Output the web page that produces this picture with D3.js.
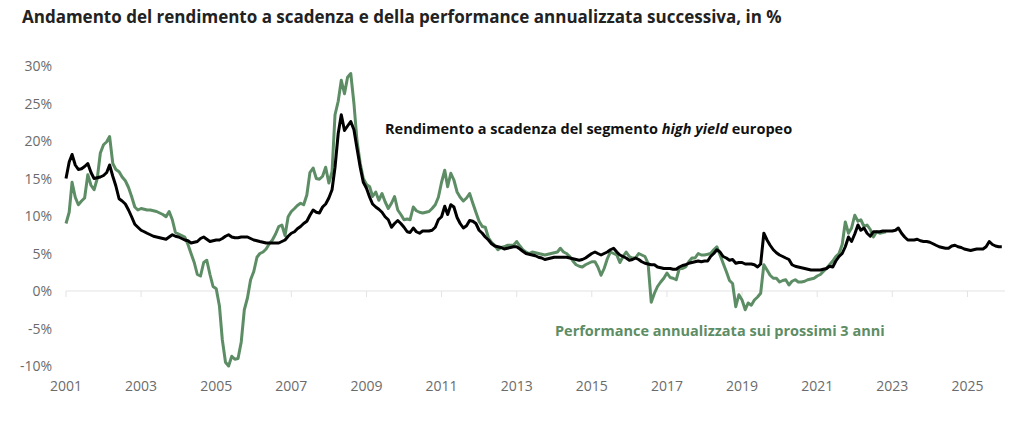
<!DOCTYPE html>
<html lang="it">
<head>
<meta charset="UTF-8">
<title>Rendimento a scadenza e performance successiva</title>
<script src="https://d3js.org/d3.v7.min.js"></script>
<style>
  body { margin: 0; background: #fff; }
  svg { display: block; font-family: "Open Sans", "Noto Sans", sans-serif; }
</style>
</head>
<body>
<svg id="chart" width="1024" height="431"></svg>
<script>
(function () {
  'use strict';

  // monthly values from Jan 2001, one row per year
  const yieldValues = [
    15.0, 17.2, 18.2, 16.8, 16.2, 16.3, 16.6, 17.0, 15.8, 15.0, 15.1, 15.2, // 2001
    15.4, 15.8, 16.8, 15.3, 14.0, 12.3, 12.0, 11.6, 10.8, 9.9, 8.9, 8.5,    // 2002
    8.1, 7.9, 7.7, 7.5, 7.3, 7.2, 7.1, 7.0, 6.9, 7.2, 7.5, 7.3,             // 2003
    7.2, 7.0, 6.8, 6.7, 6.4, 6.5, 6.6, 7.0, 7.2, 6.9, 6.6, 6.7,             // 2004
    6.8, 6.8, 7.0, 7.3, 7.5, 7.2, 7.1, 7.1, 7.2, 7.2, 7.2, 7.0,             // 2005
    6.8, 6.7, 6.6, 6.5, 6.4, 6.4, 6.4, 6.4, 6.4, 6.6, 6.8, 7.3,             // 2006
    7.7, 7.9, 8.3, 8.6, 9.0, 9.3, 10.1, 10.8, 10.5, 10.4, 11.2, 11.6,       // 2007
    12.4, 13.5, 16.5, 21.0, 23.5, 21.4, 22.0, 22.6, 21.5, 19.0, 16.5, 14.5, // 2008
    13.7, 12.5, 11.6, 11.2, 10.9, 10.5, 9.9, 9.5, 8.5, 9.0, 9.4, 9.0,       // 2009
    8.5, 7.9, 7.8, 8.4, 7.9, 7.7, 8.0, 8.0, 8.0, 8.1, 8.5, 9.5,             // 2010
    9.9, 11.3, 10.2, 11.5, 11.2, 9.8, 9.0, 8.4, 8.7, 9.4, 9.3, 9.0,         // 2011
    8.1, 7.7, 7.2, 6.8, 6.3, 6.0, 5.9, 5.8, 5.6, 5.7, 5.8, 5.9,             // 2012
    5.9, 5.6, 5.3, 5.0, 4.9, 4.8, 4.7, 4.5, 4.4, 4.2, 4.3, 4.4,             // 2013
    4.5, 4.5, 4.5, 4.5, 4.5, 4.4, 4.3, 4.2, 4.1, 4.2, 4.4, 4.7,             // 2014
    5.0, 5.2, 5.0, 4.8, 5.0, 5.2, 5.5, 5.7, 5.2, 4.8, 4.6, 4.4,             // 2015
    4.1, 4.2, 4.4, 4.2, 3.9, 3.7, 3.6, 3.5, 3.5, 3.2, 3.1, 3.0,             // 2016
    3.0, 3.0, 2.9, 2.9, 3.2, 3.4, 3.5, 3.7, 3.8, 3.9, 4.0, 3.9,             // 2017
    4.0, 4.0, 4.6, 5.0, 5.5, 5.2, 4.6, 4.4, 4.1, 4.2, 3.7, 3.8,             // 2018
    3.8, 3.6, 3.6, 3.6, 3.5, 3.2, 3.6, 7.7, 6.8, 6.1, 5.5, 5.1,             // 2019
    4.8, 4.6, 4.4, 4.2, 3.5, 3.3, 3.2, 3.1, 3.0, 2.9, 2.8, 2.8,             // 2020
    2.8, 2.8, 2.9, 3.0, 3.3, 3.2, 4.0, 4.6, 5.0, 5.9, 7.2, 6.6,             // 2021
    7.6, 8.8, 8.1, 8.4, 7.7, 7.3, 7.9, 7.9, 7.9, 8.0, 8.0, 8.0,             // 2022
    8.0, 8.1, 8.4, 7.7, 7.2, 6.8, 6.8, 6.8, 6.9, 6.7, 6.6, 6.6,             // 2023
    6.5, 6.3, 6.1, 5.9, 5.8, 5.7, 5.7, 6.0, 6.1, 5.9, 5.8, 5.6,             // 2024
    5.5, 5.4, 5.5, 5.6, 5.6, 5.6, 5.9, 6.6, 6.2, 6.0, 5.9, 5.9              // 2025
  ];

  const perfValues = [
    9.0, 10.5, 14.5, 12.5, 11.5, 12.0, 12.4, 15.5, 14.1, 13.5, 15.0, 18.4,  // 2001
    19.5, 19.9, 20.6, 17.0, 16.2, 15.9, 15.2, 14.7, 13.8, 12.6, 11.2, 10.8, // 2002
    11.0, 10.9, 10.8, 10.8, 10.7, 10.6, 10.4, 10.2, 9.9, 10.6, 9.5, 7.8,    // 2003
    7.6, 7.4, 7.2, 6.2, 5.0, 3.8, 2.2, 2.0, 3.8, 4.1, 2.2, 0.6,             // 2004
    0.3, -2.0, -6.5, -9.5, -10.0, -8.7, -9.1, -9.0, -6.8, -2.5, -0.9, 1.5,  // 2005
    2.6, 4.5, 5.0, 5.2, 5.6, 6.3, 6.8, 7.6, 8.6, 8.8, 7.4, 9.9,             // 2006
    10.6, 11.0, 11.4, 11.7, 11.5, 12.8, 15.8, 16.4, 15.0, 14.9, 15.3, 16.5, // 2007
    14.4, 15.9, 23.5, 25.3, 28.1, 26.3, 28.5, 29.0, 25.0, 20.0, 17.0, 15.0, // 2008
    14.2, 13.9, 12.6, 13.2, 12.1, 13.0, 11.9, 11.0, 11.7, 12.6, 10.8, 10.2, // 2009
    9.5, 9.6, 9.5, 11.2, 10.7, 10.5, 10.4, 10.5, 10.6, 11.0, 11.5, 12.5,    // 2010
    14.5, 16.1, 13.9, 15.7, 14.8, 13.2, 12.5, 12.0, 12.4, 13.0, 11.7, 10.5, // 2011
    9.3, 8.6, 8.5, 7.1, 6.5, 6.1, 5.5, 5.8, 5.9, 6.1, 6.1, 6.1,             // 2012
    6.6, 6.0, 5.5, 5.2, 5.0, 5.2, 5.1, 5.0, 4.9, 4.8, 4.9, 5.0,             // 2013
    5.1, 5.2, 5.7, 5.2, 5.0, 4.6, 4.0, 3.5, 3.3, 3.2, 3.5, 3.7,             // 2014
    3.9, 3.9, 3.2, 2.1, 3.0, 4.3, 5.2, 5.0, 4.8, 3.8, 4.6, 5.2,             // 2015
    4.6, 4.4, 4.4, 5.0, 4.8, 4.6, 3.7, -1.5, -0.3, 0.6, 1.2, 1.7,           // 2016
    2.4, 1.8, 1.7, 1.5, 3.0, 3.0, 3.2, 3.9, 4.4, 4.4, 5.0, 4.8,             // 2017
    4.8, 4.9, 5.0, 5.5, 5.9, 4.8, 3.7, 2.6, 1.4, 1.0, -2.1, -0.5,           // 2018
    -1.2, -2.5, -1.6, -1.9, -1.2, -0.8, -0.3, 3.5, 2.8, 2.1, 1.7, 1.7,      // 2019
    1.2, 1.4, 1.5, 0.8, 1.3, 1.5, 1.2, 1.2, 1.3, 1.5, 1.6, 1.7,             // 2020
    2.0, 2.2, 2.6, 3.0, 3.5, 4.0, 4.6, 5.0, 6.2, 9.2, 7.7, 8.4,             // 2021
    10.1, 9.3, 9.5, 8.6, 8.8, 8.2, 7.2, 7.9, 7.7, 7.8, 7.9                  // 2022
  ];

  const startYear = 2001;
  const tickYears = [2001, 2003, 2005, 2007, 2009, 2011, 2013, 2015, 2017, 2019, 2021, 2023, 2025];
  const tickValues = [-10, -5, 0, 5, 10, 15, 20, 25, 30];

  const titleText = "Andamento del rendimento a scadenza e della performance annualizzata successiva, in %";
  const yieldLabel = ["Rendimento a scadenza del segmento ", "high yield", " europeo"];
  const perfLabel = "Performance annualizzata sui prossimi 3 anni";

  const green = "#5d8d65";

  const svg = d3.select("#chart");

  const x = d3.scaleTime()
      .domain([new Date(2001, 0, 1), new Date(2026, 0, 1)])
      .range([66, 1005]);
  const y = d3.scaleLinear()
      .domain([-10, 30])
      .range([366, 66]);

  const toPoints = vals => vals.map((v, i) => ({ date: new Date(startYear, i, 1), value: v }));

  // title
  svg.append("text")
      .attr("x", 22)
      .attr("y", 23)
      .attr("fill", "#222")
      .style("font-size", "17px")
      .style("font-weight", 700)
      .text(titleText);

  // zero line
  svg.append("line")
      .attr("x1", x.range()[0])
      .attr("x2", x.range()[1])
      .attr("y1", y(0))
      .attr("y2", y(0))
      .attr("stroke", "#e3e3e3")
      .attr("stroke-width", 1);

  // x ticks
  svg.append("g")
      .selectAll("line")
      .data(tickYears)
      .join("line")
      .attr("x1", d => x(new Date(d, 0, 1)))
      .attr("x2", d => x(new Date(d, 0, 1)))
      .attr("y1", y(0))
      .attr("y2", y(0) + 6)
      .attr("stroke", "#e3e3e3");

  svg.append("g")
      .selectAll("text")
      .data(tickYears)
      .join("text")
      .attr("x", d => x(new Date(d, 0, 1)))
      .attr("y", 391)
      .attr("text-anchor", "middle")
      .attr("fill", "#6b6b6b")
      .style("font-size", "14px")
      .text(d => d);

  // y labels
  svg.append("g")
      .selectAll("text")
      .data(tickValues)
      .join("text")
      .attr("x", 52)
      .attr("y", d => y(d))
      .attr("dy", "0.36em")
      .attr("text-anchor", "end")
      .attr("fill", "#6b6b6b")
      .style("font-size", "14px")
      .text(d => d + "%");

  const line = d3.line()
      .x(d => x(d.date))
      .y(d => y(d.value));

  svg.append("path")
      .datum(toPoints(perfValues))
      .attr("fill", "none")
      .attr("stroke", green)
      .attr("stroke-width", 3)
      .attr("stroke-linejoin", "round")
      .attr("d", line);

  svg.append("path")
      .datum(toPoints(yieldValues))
      .attr("fill", "none")
      .attr("stroke", "#000")
      .attr("stroke-width", 3)
      .attr("stroke-linejoin", "round")
      .attr("d", line);

  // series labels
  const yl = svg.append("text")
      .attr("x", 385)
      .attr("y", 134)
      .attr("fill", "#111")
      .style("font-size", "14.5px")
      .style("font-weight", 700);
  yl.append("tspan").text(yieldLabel[0]);
  yl.append("tspan").style("font-style", "italic").text(yieldLabel[1]);
  yl.append("tspan").text(yieldLabel[2]);

  svg.append("text")
      .attr("x", 555)
      .attr("y", 336)
      .attr("fill", green)
      .style("font-size", "14.5px")
      .style("font-weight", 700)
      .text(perfLabel);
}());
</script>
</body>
</html>
